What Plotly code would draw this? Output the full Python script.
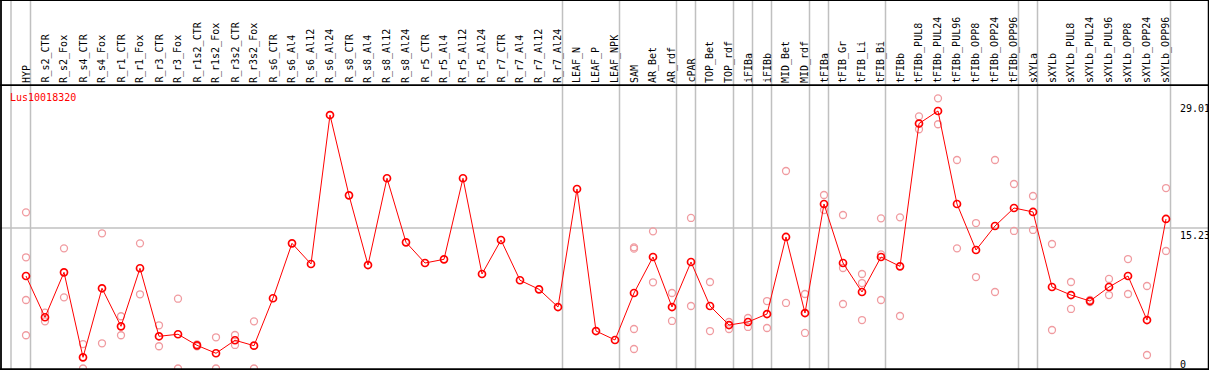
import plotly.graph_objects as go

categories = ["HYP", "R_s2_CTR", "R_s2_Fox", "R_s4_CTR", "R_s4_Fox", "R_r1_CTR", "R_r1_Fox",
              "R_r3_CTR", "R_r3_Fox", "R_r1s2_CTR", "R_r1s2_Fox", "R_r3s2_CTR", "R_r3s2_Fox",
              "R_s6_CTR", "R_s6_Al4", "R_s6_Al12", "R_s6_Al24", "R_s8_CTR", "R_s8_Al4", "R_s8_Al12",
              "R_s8_Al24", "R_r5_CTR", "R_r5_Al4", "R_r5_Al12", "R_r5_Al24", "R_r7_CTR", "R_r7_Al4",
              "R_r7_Al12", "R_r7_Al24", "LEAF_N", "LEAF_P", "LEAF_NPK", "SAM", "AR_Bet", "AR_rdf",
              "cPAR", "TOP_Bet", "TOP_rdf", "iFIBa", "iFIBb", "MID_Bet", "MID_rdf", "tFIBa",
              "tFIB_Gr", "tFIB_Li", "tFIB_Bi", "tFIBb", "tFIBb_PUL8", "tFIBb_PUL24", "tFIBb_PUL96",
              "tFIBb_OPP8", "tFIBb_OPP24", "tFIBb_OPP96", "sXYLa", "sXYLb", "sXYLb_PUL8",
              "sXYLb_PUL24", "sXYLb_PUL96", "sXYLb_OPP8", "sXYLb_OPP24", "sXYLb_OPP96"]

mean_values = [10.02, 5.55, 10.42, 1.21, 8.69, 4.57, 10.86, 3.49, 3.71, 2.51, 1.65, 3.06, 2.47,
               7.61, 13.56, 11.32, 27.46, 18.76, 11.21, 20.61, 13.67, 11.43, 11.83, 20.61, 10.24,
               13.92, 9.56, 8.58, 6.66, 19.45, 4.06, 3.09, 8.18, 12.08, 6.66, 11.54, 6.77, 4.71,
               5.04, 5.90, 14.25, 6.01, 17.82, 11.43, 8.29, 12.08, 11.07, 26.54, 27.90, 17.82,
               12.84, 15.44, 17.39, 16.96, 8.83, 7.96, 7.31, 8.83, 10.02, 5.25, 16.20]

replicates = [
    [16.92, 12.05, 7.42, 3.60], [6.05, 5.11], [13.02, 7.71], [2.65, 0.0], [14.65, 2.73],
    [5.66, 3.60], [13.56, 8.04], [4.68, 2.41], [7.56, 0.0], [2.62, 2.41], [3.38, 0.0],
    [3.63, 2.55], [5.11, 0.0],
    [], [], [], [], [], [], [], [], [], [], [], [], [], [], [], [],
    [], [], [],
    [13.13, 12.98, 4.28, 2.11], [14.86, 9.34], [8.18, 5.15], [16.31, 6.77], [9.37, 4.06],
    [5.04, 4.28], [5.47, 4.50], [7.31, 4.39], [21.40, 7.10], [8.07, 3.85], [18.80, 17.17],
    [16.63, 10.89, 6.99], [10.24, 9.26, 5.25], [16.27, 12.37, 7.42], [16.38, 5.69],
    [27.32, 25.92], [29.27, 26.46], [22.59, 13.02], [15.76, 9.91], [22.59, 8.29],
    [19.99, 14.90], [18.69, 15.01], [13.49, 4.17], [9.37, 6.45], [7.42, 7.20], [9.70, 7.96],
    [11.86, 8.07], [8.94, 1.46], [19.55, 12.73],
]

title_text = "Lus10018320"
y_tick_values = [29.01, 15.23, 0]
y_tick_labels = ["29.01", "15.23", "0"]
separator_after = [0, 28, 31, 34, 35, 37, 38, 39, 41, 42, 45, 52, 53, 60]
grid_value = 15.23

W, H = 1209, 370
X0, DX = 26.0, 19.0          # pixel of first column, column pitch
Y0, KY = 368.5, 9.23         # pixel of value 0, pixels per unit

def px_to_x(px):
    return (px - X0) / DX

def py_to_paper(py):
    return (H - py) / H

x_range = [px_to_x(0), px_to_x(W)]
y_range = [(Y0 - H) / KY, Y0 / KY]

idx = list(range(len(categories)))
rep_x, rep_y = [], []
for i, reps in enumerate(replicates):
    for v in reps:
        rep_x.append(i)
        rep_y.append(v)

fig = go.Figure()
fig.add_trace(go.Scatter(
    x=rep_x, y=rep_y, mode="markers",
    marker=dict(symbol="circle-open", size=7, color="rgb(240,155,160)", line=dict(width=1.3)),
    hoverinfo="skip", showlegend=False))
fig.add_trace(go.Scatter(
    x=idx, y=mean_values, mode="lines+markers",
    line=dict(color="#ff0000", width=1),
    marker=dict(symbol="circle-open", size=7, color="#ff0000", line=dict(width=1.7)),
    showlegend=False))

shapes = []
gray = "#c0c0c0"
sep_x = [px_to_x(11)] + [i + 4.5 / DX for i in separator_after]
for sx in sep_x:
    shapes.append(dict(type="line", xref="x", yref="paper", x0=sx, x1=sx, y0=py_to_paper(369), y1=1,
                       line=dict(color=gray, width=1.5), layer="below"))
shapes.append(dict(type="line", xref="paper", yref="y", x0=0, x1=1, y0=grid_value, y1=grid_value,
                   line=dict(color=gray, width=1.5), layer="below"))
blk = "#000000"
shapes.append(dict(type="line", xref="paper", yref="paper", x0=0, x1=1, y0=py_to_paper(0.5), y1=py_to_paper(0.5),
                   line=dict(color=blk, width=1.2)))
shapes.append(dict(type="line", xref="paper", yref="paper", x0=0, x1=1, y0=py_to_paper(85.2), y1=py_to_paper(85.2),
                   line=dict(color=blk, width=1.8)))
shapes.append(dict(type="line", xref="paper", yref="paper", x0=0, x1=1, y0=py_to_paper(369.2), y1=py_to_paper(369.2),
                   line=dict(color=blk, width=1.8)))
shapes.append(dict(type="line", xref="paper", yref="paper", x0=1 / W, x1=1 / W, y0=0, y1=1,
                   line=dict(color=blk, width=1.8)))
shapes.append(dict(type="line", xref="paper", yref="paper", x0=1208.5 / W, x1=1208.5 / W, y0=0, y1=1,
                   line=dict(color=blk, width=1.5)))

font_mono = "DejaVu Sans Mono, Liberation Mono, monospace"
annotations = []
for i, c in enumerate(categories):
    annotations.append(dict(x=i, y=py_to_paper(85), xref="x", yref="paper", text=c, showarrow=False,
                            textangle=-90, xanchor="center", yanchor="bottom",
                            font=dict(family=font_mono, size=10, color="#000000")))
for v, t in zip(y_tick_values, y_tick_labels):
    ytop = Y0 - KY * v
    if ytop > 358:
        ytop = 357
    annotations.append(dict(x=1178 / W, y=py_to_paper(ytop), xref="paper", yref="paper", text=t,
                            showarrow=False, xanchor="left", yanchor="top",
                            font=dict(family=font_mono, size=10, color="#000000")))
annotations.append(dict(x=8 / W, y=py_to_paper(97), xref="paper", yref="paper", text=title_text,
                        showarrow=False, xanchor="left", yanchor="middle",
                        font=dict(family=font_mono, size=10, color="#ff0000")))

fig.update_layout(
    width=W, height=H, margin=dict(l=0, r=0, t=0, b=0),
    paper_bgcolor="white", plot_bgcolor="white",
    xaxis=dict(range=x_range, visible=False, fixedrange=True),
    yaxis=dict(range=y_range, visible=False, fixedrange=True),
    shapes=shapes, annotations=annotations, showlegend=False,
)
fig.write_html("out.html", config={"displayModeBar": False},
               post_script="document.body.style.margin='0';document.body.style.overflow='hidden';")
